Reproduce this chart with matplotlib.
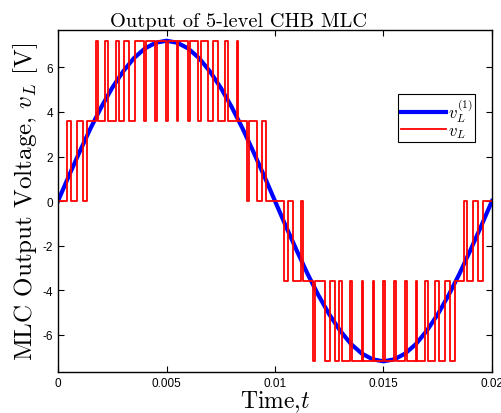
import matplotlib
matplotlib.use("Agg")
import matplotlib.pyplot as plt
import numpy as np

# fundamental v_L^(1), read every 0.5 ms (V)
fund_t_ms = np.arange(0, 20.5, 0.5)
fund_v = [0, 1.13, 2.22, 3.27, 4.23, 5.09, 5.82, 6.42, 6.85, 7.11, 7.2,
          7.11, 6.85, 6.42, 5.82, 5.09, 4.23, 3.27, 2.22, 1.13, 0,
          -1.13, -2.22, -3.27, -4.23, -5.09, -5.82, -6.42, -6.85, -7.11, -7.2,
          -7.11, -6.85, -6.42, -5.82, -5.09, -4.23, -3.27, -2.22, -1.13, 0]

# switching instants of v_L (ms) and the level after each switch (V)
switch_ms = [0, 0.429, 0.599, 0.862, 1.166, 1.350, 1.737, 1.857, 2.166, 2.318,
             2.659, 2.811, 3.055, 3.272, 3.548, 3.963, 4.055, 4.470, 4.548,
             4.977, 5.055, 5.470, 5.544, 6.005, 6.083, 6.465, 6.576, 6.926,
             7.129, 7.387, 7.696, 7.820, 8.240, 8.276, 8.696, 8.816, 9.157,
             9.378, 9.571, 10.429, 10.613, 10.843, 11.221, 11.313, 11.737,
             11.843, 12.304, 12.535, 12.765, 12.963, 13.074, 13.456, 13.535,
             13.995, 14.069, 14.502, 14.562, 14.991, 15.069, 15.484, 15.576,
             15.991, 16.069, 16.498, 16.558, 16.912, 17.051, 17.396, 17.558,
             17.857, 18.065, 18.295, 18.710, 18.834, 19.124, 19.355, 19.608, 20.0]
switch_level = [0, 3.6, 0, 3.6, 0, 3.6, 7.2, 3.6, 7.2, 3.6,
                7.2, 3.6, 7.2, 3.6, 7.2, 3.6, 7.2, 3.6, 7.2,
                3.6, 7.2, 3.6, 7.2, 3.6, 7.2, 3.6, 7.2, 3.6,
                7.2, 3.6, 7.2, 3.6, 7.2, 3.6, 0, 3.6, 0,
                3.6, 0, -3.6, 0, -3.6, 0, -3.6, -7.2,
                -3.6, -7.2, -3.6, -7.2, -3.6, -7.2, -3.6, -7.2,
                -3.6, -7.2, -3.6, -7.2, -3.6, -7.2, -3.6, -7.2,
                -3.6, -7.2, -3.6, -7.2, -3.6, -7.2, -3.6, -7.2,
                -3.6, -7.2, -3.6, 0, -3.6, 0, -3.6, 0, 0]

plt.rcParams['mathtext.fontset'] = 'cm'

fig = plt.figure(figsize=(5.01, 4.14), dpi=100)
ax = fig.add_axes([0.1158, 0.099, 0.8662, 0.826])

ax.plot(fund_t_ms / 1000.0, fund_v, color=(0, 0, 1), lw=3.0,
        label=r'$v_L^{(1)}$')
ax.plot(np.array(switch_ms) / 1000.0, switch_level, color=(1, 0, 0), lw=1.3,
        drawstyle='steps-post', label=r'$v_L$')

ax.set_xlim(0, 0.02)
ax.set_ylim(-7.68, 7.68)
ax.set_xticks([0, 0.005, 0.01, 0.015, 0.02])
ax.set_xticklabels(['0', '0.005', '0.01', '0.015', '0.02'])
ax.set_yticks([-6, -4, -2, 0, 2, 4, 6])
ax.set_yticklabels(['-6', '-4', '-2', '0', '2', '4', '6'])
ax.tick_params(direction='in', top=True, right=True, length=4, width=0.8,
               labelsize=8.5)
for lab in ax.get_xticklabels() + ax.get_yticklabels():
    lab.set_fontfamily('Liberation Sans')
for sp in ax.spines.values():
    sp.set_linewidth(1.0)

ax.set_title('Output of 5-level CHB MLC', fontfamily='cmr10', fontsize=14.7,
             x=0.415, pad=3)
ax.set_xlabel(r'Time,$t$', fontfamily='cmr10', fontsize=17, labelpad=0)
ax.set_ylabel(r'MLC Output Voltage, $v_L$ [V]', fontfamily='cmr10', fontsize=18,
              labelpad=2)

leg = ax.legend(loc='upper right', bbox_to_anchor=(0.961, 0.813),
                borderaxespad=0, fontsize=12, fancybox=False, framealpha=1,
                edgecolor='black', handlelength=2.7, handletextpad=0.1,
                labelspacing=-0.2, borderpad=0.15)
leg.get_frame().set_linewidth(0.8)

fig.savefig('out.png', dpi=100)
